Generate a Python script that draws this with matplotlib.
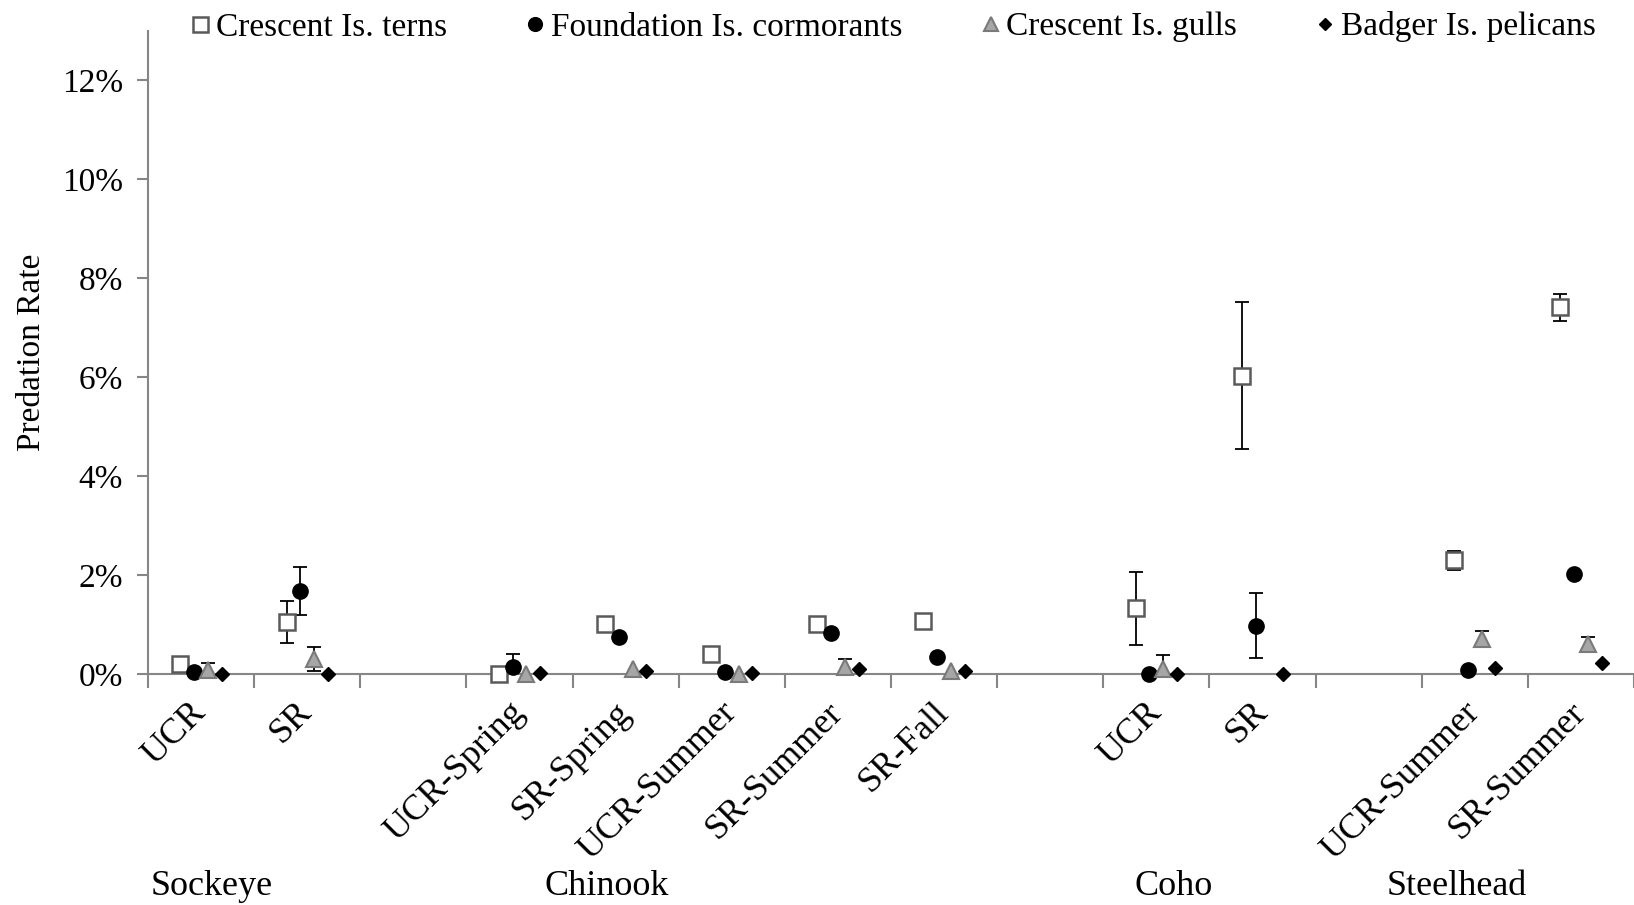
import numpy as np
import matplotlib
matplotlib.use("Agg")
import matplotlib.pyplot as plt
from matplotlib.ticker import FuncFormatter, FixedLocator

nan = np.nan

# stock / run labels along the x axis (blank slots separate the species)
categories = ["UCR", "SR", "",
              "UCR-Spring", "SR-Spring", "UCR-Summer", "SR-Summer", "SR-Fall", "",
              "UCR", "SR", "",
              "UCR-Summer", "SR-Summer"]
species = ["Sockeye", "Chinook", "Coho", "Steelhead"]

# predation rates in percent, with error bar half-widths
terns = [0.20, 1.05, nan, 0.00, 1.02, 0.40, 1.02, 1.08, nan, 1.33, 6.03, nan, 2.30, 7.41]
terns_err = [nan, 0.43, nan, nan, nan, nan, nan, nan, nan, 0.74, 1.49, nan, 0.19, 0.27]
cormorants = [0.04, 1.68, nan, 0.15, 0.74, 0.05, 0.82, 0.35, nan, 0.01, 0.98, nan, 0.08, 2.02]
cormorants_err = [nan, 0.48, nan, 0.25, nan, nan, 0.06, nan, nan, nan, 0.65, nan, nan, nan]
gulls = [0.08, 0.30, nan, 0.00, 0.11, 0.00, 0.14, 0.06, nan, 0.10, nan, nan, 0.70, 0.61]
gulls_err = [0.15, 0.24, nan, nan, nan, nan, 0.16, nan, nan, 0.28, nan, nan, 0.16, 0.14]
pelicans = [0.01, 0.01, nan, 0.03, 0.07, 0.03, 0.10, 0.07, nan, 0.01, 0.01, nan, 0.12, 0.22]
pelicans_err = [nan] * len(categories)

GRAY = "#868686"

plt.rcParams['font.family'] = ['Liberation Serif', 'DejaVu Serif']


def plot():
    fig = plt.figure(figsize=(16.34, 9.05), dpi=100)
    ax = fig.add_axes([148 / 1634, 1 - 674 / 905, 1 - 148 / 1634, 643 / 905])

    x = np.arange(len(categories))
    series = [
        (terns, terns_err, "Crescent Is. terns",
         dict(marker='s', ms=12, mfc='white', mec='#5a5a5a', mew=1.8)),
        (cormorants, cormorants_err, "Foundation Is. cormorants",
         dict(marker='o', ms=11, mfc='black', mec='black', mew=1)),
        (gulls, gulls_err, "Crescent Is. gulls",
         dict(marker='^', ms=11.5, mfc='#a6a6a6', mec='#7a7a7a', mew=1.5)),
        (pelicans, pelicans_err, "Badger Is. pelicans",
         dict(marker='D', ms=7, mfc='black', mec='black', mew=1)),
    ]
    offsets = [-0.195, -0.065, 0.065, 0.195]

    handles = []
    for (vals, errs, label, style), off in zip(series, offsets):
        xs = x + off
        ax.errorbar(xs, vals, yerr=errs, fmt='none', ecolor='black',
                    elinewidth=1.3, capsize=5, capthick=1.3, zorder=2)
        h, = ax.plot(xs, vals, linestyle='none', zorder=3, clip_on=False,
                     label=label, **style)
        handles.append(h)

    ax.set_xlim(-0.5, len(categories) - 0.5)
    ax.set_ylim(0, 13)
    ax.set_yticks(range(0, 13, 2))
    ax.yaxis.set_major_formatter(FuncFormatter(lambda v, p: f"{v:.0f}%"))

    for side in ['top', 'right']:
        ax.spines[side].set_visible(False)
    for side in ['left', 'bottom']:
        ax.spines[side].set_color(GRAY)
        ax.spines[side].set_linewidth(1.5)

    ax.tick_params(axis='y', direction='out', length=8, width=1.5, color=GRAY,
                   labelsize=24, pad=10)

    # labels at category centres, tick marks between categories
    ax.set_xticks(x)
    ax.set_xticklabels(categories, rotation=45, ha='right', va='center',
                       rotation_mode='anchor', fontsize=26)
    ax.tick_params(axis='x', which='major', length=0, pad=24)
    ax.xaxis.set_minor_locator(FixedLocator(np.arange(-0.5, len(categories), 1)))
    ax.tick_params(axis='x', which='minor', direction='out', length=10,
                   width=1.5, color=GRAY)

    ax.set_ylabel("Predation Rate", fontsize=24)
    ax.yaxis.set_label_coords(-0.068, 0.5)

    group_x = [0.1, 3.82, 9.16, 11.83]
    for name, gx in zip(species, group_x):
        ax.text(gx, -0.33, name, transform=ax.get_xaxis_transform(),
                ha='center', va='center', fontsize=26)

    fig.legend(handles, [h.get_label() for h in handles], loc='center',
               bbox_to_anchor=(0.546, 1 - 27 / 905), ncol=4, frameon=False,
               fontsize=24, handlelength=0.7, handletextpad=0.12,
               columnspacing=2.3, markerscale=0.9, borderaxespad=0)

    fig.savefig("out.png", dpi=100)


def main():
    plot()


if __name__ == "__main__":
    main()
